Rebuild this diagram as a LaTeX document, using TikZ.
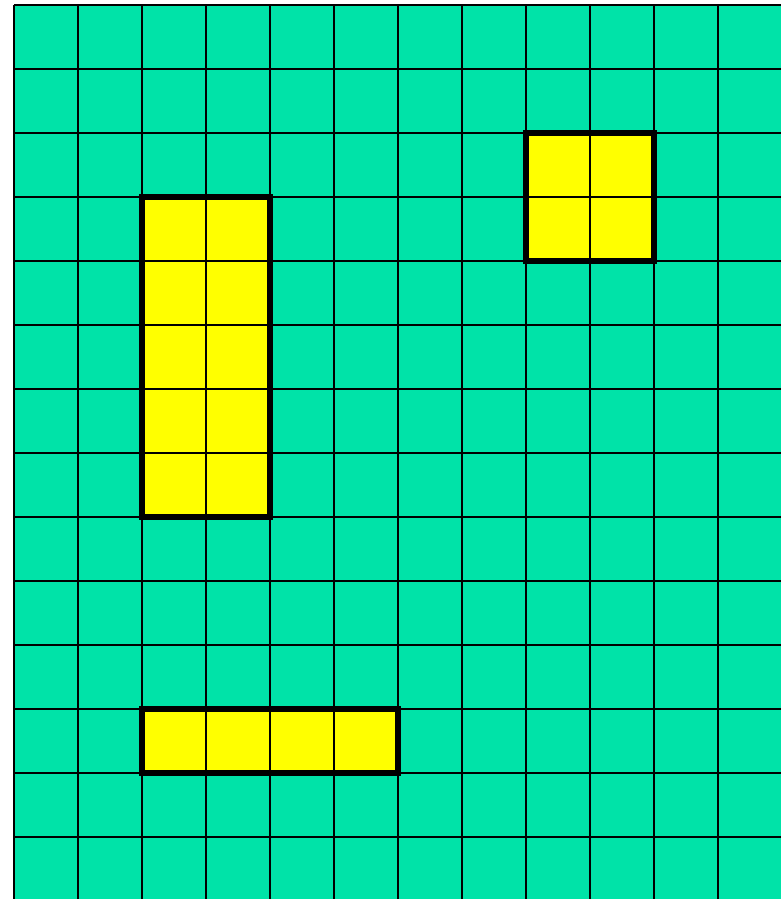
\documentclass[tikz,border=0pt]{standalone}
\definecolor{gridgreen}{HTML}{00E3A8}
\definecolor{boxyellow}{HTML}{FFFF00}
\tikzset{
  gridline/.style={line width=2pt, black},
  boxoutline/.style={line width=6pt, black, line join=miter},
}
\begin{document}
\begin{tikzpicture}[x=1pt,y=-1pt]
\useasboundingbox (0,0) rectangle (780,899);
\fill[white] (0,0) rectangle (780,899);
\fill[gridgreen] (14,5) rectangle (782,901);
% yellow fills
\fill[boxyellow] (142,197) rectangle (270,517);
\fill[boxyellow] (526,133) rectangle (654,261);
\fill[boxyellow] (142,709) rectangle (398,773);
% grid
\foreach \i in {0,...,12} {
  \draw[gridline] ({14+64*\i},5) -- ({14+64*\i},901);
}
\foreach \j in {0,...,13} {
  \draw[gridline] (14,{5+64*\j}) -- (782,{5+64*\j});
}
% thick outlines
\draw[boxoutline] (142,197) rectangle (270,517);
\draw[boxoutline] (526,133) rectangle (654,261);
\draw[boxoutline] (142,709) rectangle (398,773);
\end{tikzpicture}
\end{document}
